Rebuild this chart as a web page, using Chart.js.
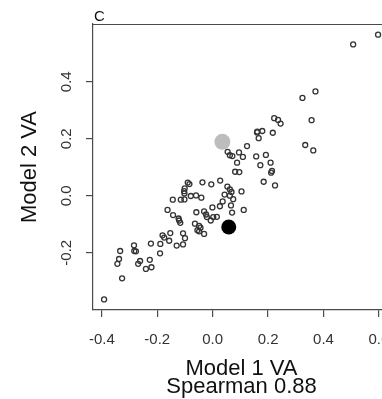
<!DOCTYPE html>
<html>
<head>
<meta charset="utf-8">
<script src="https://cdn.jsdelivr.net/npm/chart.js@4.4.1/dist/chart.umd.min.js"></script>
<style>
html, body { margin:0; padding:0; overflow:hidden; background:#fff; width:382px; height:399px; }
#wrap { width:410px; height:399px; }
</style>
</head>
<body>
<div id="wrap"><canvas id="c" width="410" height="399"></canvas></div>
<script>
// Model 1 VA (x) and Model 2 VA (y) for each unit
const model1VA = [0.597,0.507,0.371,0.324,0.357,0.334,0.363,0.222,0.236,0.245,
  0.179,0.160,0.161,0.166,0.217,0.124,0.054,0.062,0.071,0.095,
  0.109,0.088,0.081,0.096,0.157,0.192,0.172,0.209,0.214,0.211,
  0.184,0.225,0.027,-0.005,-0.037,-0.090,-0.084,-0.101,-0.103,-0.102,
  0.053,0.062,0.068,0.104,-0.144,-0.115,-0.102,-0.079,-0.060,-0.041,
  0.043,0.062,0.074,0.036,0.026,-0.163,-0.143,-0.123,-0.121,-0.117,
  -0.059,-0.031,-0.024,-0.021,-0.001,0.002,0.015,0.066,0.070,0.112,
  -0.064,-0.049,-0.044,-0.055,-0.049,-0.031,-0.007,-0.153,-0.181,-0.175,
  -0.157,-0.107,-0.100,-0.107,-0.130,-0.223,-0.189,-0.190,-0.284,-0.283,
  -0.277,-0.334,-0.338,-0.344,-0.262,-0.269,-0.227,-0.221,-0.241,-0.327,
  -0.392];
const model2VA = [0.565,0.531,0.366,0.343,0.265,0.178,0.159,0.272,0.266,0.253,
  0.227,0.222,0.225,0.202,0.221,0.174,0.154,0.142,0.139,0.152,
  0.136,0.116,0.084,0.083,0.138,0.143,0.107,0.116,0.087,0.081,
  0.049,0.036,0.053,0.040,0.047,0.046,0.041,0.026,0.016,0.008,
  0.032,0.022,0.013,0.015,-0.014,-0.014,-0.013,-0.001,0.001,-0.007,
  0.004,0.000,-0.012,-0.020,-0.037,-0.050,-0.068,-0.080,-0.087,-0.095,
  -0.058,-0.055,-0.066,-0.075,-0.041,-0.075,-0.074,-0.034,-0.059,-0.050,
  -0.098,-0.106,-0.112,-0.121,-0.125,-0.134,-0.087,-0.131,-0.139,-0.147,
  -0.158,-0.132,-0.149,-0.171,-0.175,-0.168,-0.169,-0.202,-0.174,-0.194,
  -0.195,-0.194,-0.222,-0.239,-0.229,-0.239,-0.225,-0.251,-0.257,-0.290,
  -0.364];
// highlighted units
const greyUnitX = [0.035];
const greyUnitY = [0.189];
const blackUnitX = [0.058];
const blackUnitY = [-0.110];

const xTickValues = [-0.4, -0.2, 0.0, 0.2, 0.4, 0.6];
const yTickValues = [-0.2, 0.0, 0.2, 0.4];
const xTitle = ['Model 1 VA', 'Spearman 0.88'];
const yTitle = 'Model 2 VA';
const panelLabel = 'C';

const toPts = (xs, ys) => xs.map((x, i) => ({x: x, y: ys[i]}));

const boxPlugin = {
  id: 'boxPlugin',
  afterDraw(chart) {
    const {ctx, chartArea: a} = chart;
    ctx.save();
    ctx.strokeStyle = '#4a4a4a';
    ctx.lineWidth = 1.2;
    ctx.beginPath();
    ctx.moveTo(a.left, a.top + 0.5);
    ctx.lineTo(a.right, a.top + 0.5);
    ctx.lineTo(a.right, a.bottom);
    ctx.stroke();
    ctx.fillStyle = '#111';
    ctx.font = '15px "Liberation Sans", Arial, sans-serif';
    ctx.textBaseline = 'alphabetic';
    ctx.textAlign = 'left';
    ctx.fillText(panelLabel, a.left + 1, 20.5);
    ctx.restore();
  }
};

const FAM = '"Liberation Sans", Arial, sans-serif';
const tickFont = {family: FAM, size: 15};

new Chart(document.getElementById('c'), {
  type: 'scatter',
  data: {
    datasets: [
      { data: toPts(blackUnitX, blackUnitY), pointRadius: 7.5, pointBackgroundColor: '#000', pointBorderColor: '#000', pointBorderWidth: 0 },
      { data: toPts(greyUnitX, greyUnitY), pointRadius: 8, pointBackgroundColor: '#bdbdbd', pointBorderColor: '#bdbdbd', pointBorderWidth: 0 },
      { data: toPts(model1VA, model2VA), pointRadius: 2.5, pointBackgroundColor: 'rgba(0,0,0,0)', pointBorderColor: '#333', pointBorderWidth: 1.3 }
    ]
  },
  options: {
    responsive: false,
    animation: false,
    events: [],
    layout: { padding: { left: 0, top: 24, right: 20, bottom: 0 } },
    plugins: { legend: { display: false }, tooltip: { enabled: false } },
    scales: {
      x: {
        type: 'linear', min: -0.432, max: 0.64,
        afterBuildTicks: s => { s.ticks = xTickValues.map(v => ({value: v})); },
        afterFit: s => { s.height = 89; },
        grid: { display: true, drawOnChartArea: false, drawTicks: true, tickLength: 7, color: '#4a4a4a', lineWidth: 1.2 },
        border: { display: true, color: '#4a4a4a', width: 1.2 },
        ticks: { font: tickFont, color: '#333', padding: 14, maxRotation: 0, minRotation: 0, callback: v => Number(v).toFixed(1) },
        title: { display: true, text: xTitle, font: {family: FAM, size: 22, lineHeight: '18px'}, color: '#111', padding: { top: 0, bottom: 3 } }
      },
      y: {
        type: 'linear', min: -0.401, max: 0.6025,
        afterBuildTicks: s => { s.ticks = yTickValues.map(v => ({value: v})); },
        afterFit: s => { s.width = 93; },
        grid: { display: true, drawOnChartArea: false, drawTicks: true, tickLength: 7, color: '#4a4a4a', lineWidth: 1.2 },
        border: { display: true, color: '#4a4a4a', width: 1.2 },
        ticks: { font: tickFont, color: '#333', padding: 6, minRotation: 90, maxRotation: 90, crossAlign: 'center', callback: v => Number(v).toFixed(1) },
        title: { display: true, text: yTitle, font: {family: FAM, size: 22, lineHeight: '22px'}, color: '#111', padding: { top: 19, bottom: 0 } }
      }
    }
  },
  plugins: [boxPlugin]
});
</script>
</body>
</html>
